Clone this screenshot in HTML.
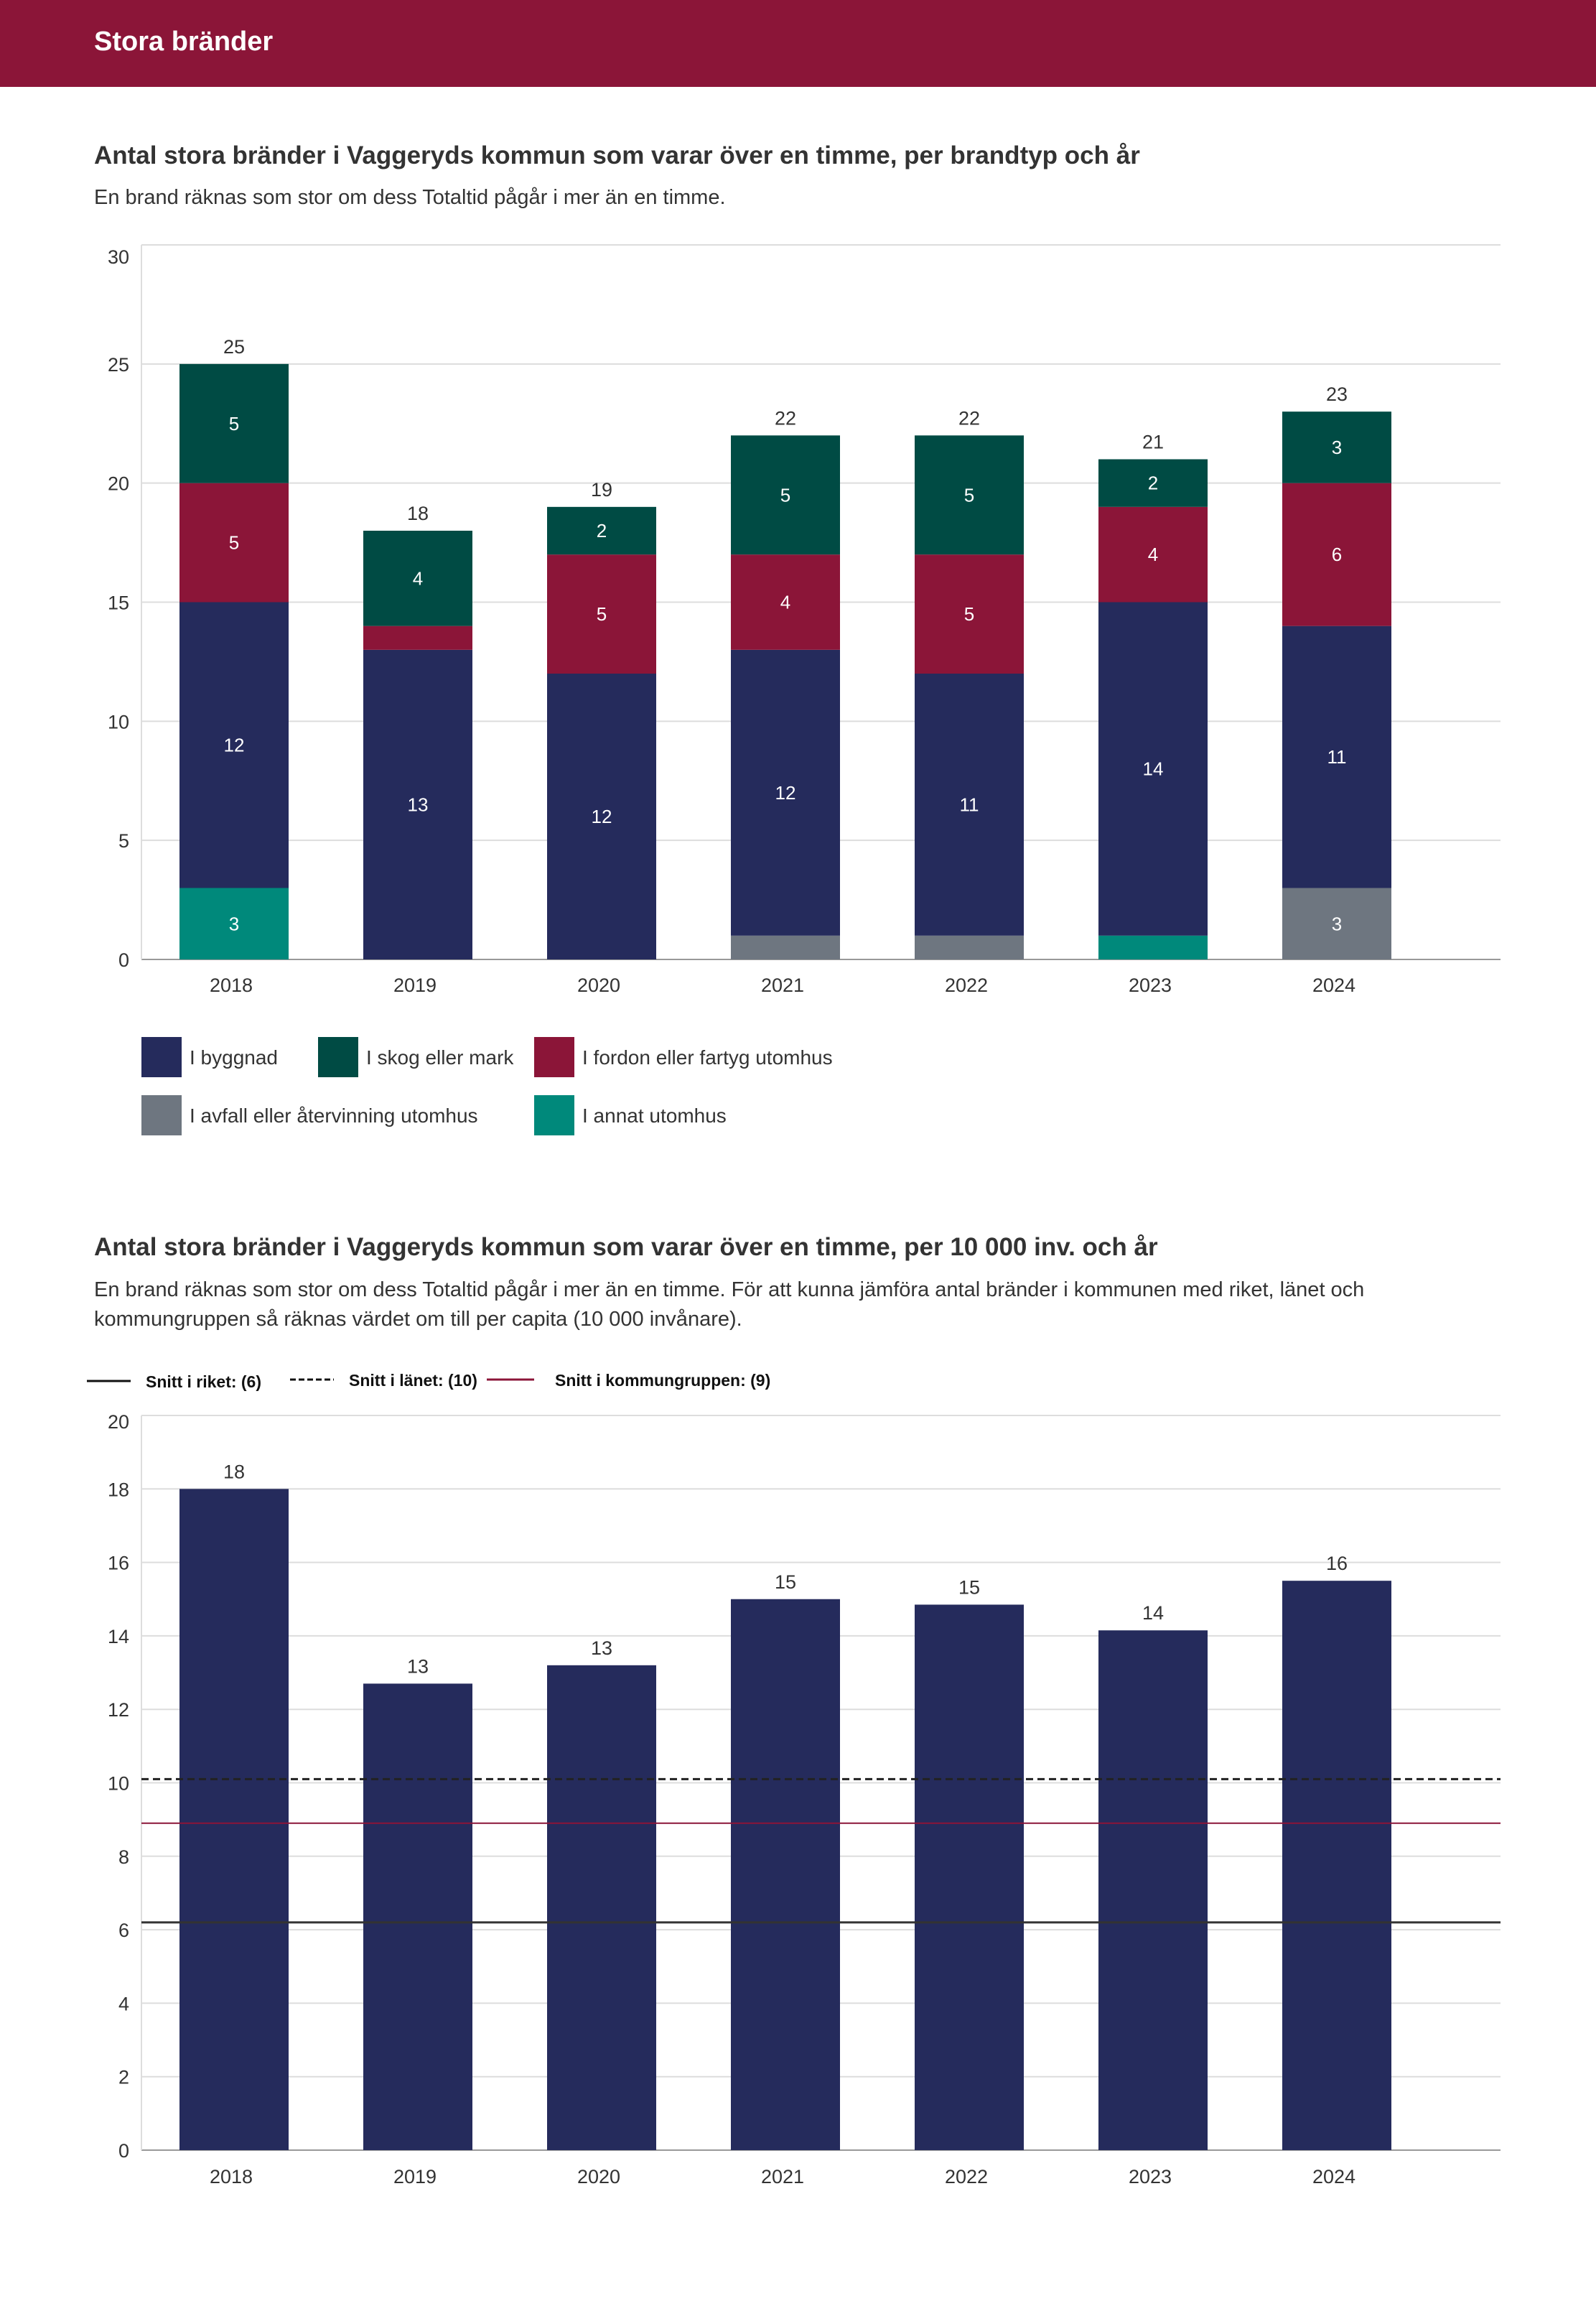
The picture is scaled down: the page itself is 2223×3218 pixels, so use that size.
<!DOCTYPE html>
<html><head><meta charset="utf-8">
<style>
html,body{margin:0;padding:0;background:#fff;}
body{width:2223px;height:3213px;overflow:hidden;font-family:"Liberation Sans",sans-serif;}
svg text{font-family:"Liberation Sans",sans-serif;}
</style></head>
<body>
<svg id="svg" width="2223" height="3213" xmlns="http://www.w3.org/2000/svg">
<rect x="0" y="0" width="2223" height="121" fill="#8b1538"/>
<text x="131" y="70" font-size="38" font-weight="bold" fill="#fff">Stora bränder</text>
<text x="131" y="228" font-size="35" font-weight="bold" fill="#333">Antal stora bränder i Vaggeryds kommun som varar över en timme, per brandtyp och år</text>
<text x="131" y="284" font-size="29" fill="#333">En brand räknas som stor om dess Totaltid pågår i mer än en timme.</text>
<g id="c1"></g>
<g id="leg1"></g>
<text x="131" y="1748" font-size="35" font-weight="bold" fill="#333">Antal stora bränder i Vaggeryds kommun som varar över en timme, per 10 000 inv. och år</text>
<text x="131" y="1805" font-size="29" fill="#333">En brand räknas som stor om dess Totaltid pågår i mer än en timme. För att kunna jämföra antal bränder i kommunen med riket, länet och</text>
<text x="131" y="1846" font-size="29" fill="#333">kommungruppen så räknas värdet om till per capita (10 000 invånare).</text>
<g>
<line x1="121" y1="1923" x2="182" y2="1923" stroke="#111" stroke-width="3"/>
<text x="203" y="1932" font-size="23" font-weight="bold" fill="#111">Snitt i riket: (6)</text>
<line x1="404" y1="1921" x2="465" y2="1921" stroke="#111" stroke-width="3" stroke-dasharray="8,4"/>
<text x="486" y="1930" font-size="23" font-weight="bold" fill="#111">Snitt i länet: (10)</text>
<line x1="678" y1="1921" x2="744" y2="1921" stroke="#8b1538" stroke-width="3"/>
<text x="773" y="1930" font-size="23" font-weight="bold" fill="#111">Snitt i kommungruppen: (9)</text>
</g>
<g id="c2"></g>
</svg>
<script>
const years = ["2018","2019","2020","2021","2022","2023","2024"];
const seriesNames = ["I annat utomhus","I avfall eller återvinning utomhus","I byggnad","I fordon eller fartyg utomhus","I skog eller mark"];
const annat = [3,0,0,0,0,1,0];
const avfall = [0,0,0,1,1,0,3];
const byggnad = [12,13,12,12,11,14,11];
const fordon = [5,1,5,4,5,4,6];
const skog = [5,4,2,5,5,2,3];
const totals = [25,18,19,22,22,21,23];
const yTicks1 = [0,5,10,15,20,25,30];
const perCapita = [18.0,12.7,13.2,15.0,14.85,14.15,15.5];
const perCapitaLabels = ["18","13","13","15","15","14","16"];
const yTicks2 = [0,2,4,6,8,10,12,14,16,18,20];
const riket = 6.2, lanet = 10.1, kommungrupp = 8.9;

const NS="http://www.w3.org/2000/svg";
function mk(parent,tag,attrs,txt){const e=document.createElementNS(NS,tag);for(const k in attrs)e.setAttribute(k,attrs[k]);if(txt!==undefined)e.textContent=txt;parent.appendChild(e);return e;}
const L=197,R=2090,bw=152;
function xc(i){return 326+i*256;}

// Chart 1
const c1=document.getElementById('c1');
const y1=v=>1336-v*(995/30);
yTicks1.forEach(t=>{
  const g=mk(c1,'line',{x1:L,x2:R,y1:y1(t),y2:y1(t),stroke:t===0?'#999':'#ddd','stroke-width':2});
  
  
  const tx=mk(c1,'text',{x:180,y:y1(t)+10+(t===30?16:0),'font-size':27,fill:'#333','text-anchor':'end'},t);
  
  
});
const ax1=mk(c1,'line',{x1:L,x2:L,y1:y1(30),y2:y1(0),stroke:'#ddd','stroke-width':2});


const stack=[[annat,'#00897b','annat'],[avfall,'#6e7680','avfall'],[byggnad,'#252b5c','byggnad'],[fordon,'#8b1538','fordon'],[skog,'#004b44','skog']];
years.forEach((yr,i)=>{
  let base=0;
  stack.forEach(([arr,col,nm])=>{
    const v=arr[i]; if(!v) return;
    const r=mk(c1,'rect',{x:xc(i)-bw/2,y:y1(base+v),width:bw,height:y1(base)-y1(base+v),fill:col});
    
    
    if(v>=2){
      const t=mk(c1,'text',{x:xc(i),y:(y1(base)+y1(base+v))/2+9,'font-size':26,fill:'#fff','text-anchor':'middle'},v);
      
      
    }
    base+=v;
  });
  const tt=mk(c1,'text',{x:xc(i),y:y1(totals[i])-15,'font-size':27,fill:'#333','text-anchor':'middle'},totals[i]);
  
  
  const xl=mk(c1,'text',{x:xc(i)-4,y:1381,'font-size':27,fill:'#333','text-anchor':'middle'},yr);
  
  
});
// legend 1
const leg=document.getElementById('leg1');
[[197,1444,'#252b5c','I byggnad'],[443,1444,'#004b44','I skog eller mark'],[744,1444,'#8b1538','I fordon eller fartyg utomhus'],[197,1525,'#6e7680','I avfall eller återvinning utomhus'],[744,1525,'#00897b','I annat utomhus']].forEach(([x,y,c,t])=>{
  const r=mk(leg,'rect',{x:x,y:y,width:56,height:56,fill:c});
  
  
  const tx=mk(leg,'text',{x:x+67,y:y+38,'font-size':28,fill:'#333'},t);
  
  
});

// Chart 2
const c2=document.getElementById('c2');
const y2=v=>2994-v*(1023/20);
yTicks2.forEach(t=>{
  const g=mk(c2,'line',{x1:L,x2:R,y1:y2(t),y2:y2(t),stroke:t===0?'#999':'#ddd','stroke-width':2});
  
  
  const tx=mk(c2,'text',{x:180,y:y2(t)+10+(t===20?8:0),'font-size':27,fill:'#333','text-anchor':'end'},t);
  
  
});
const ax2=mk(c2,'line',{x1:L,x2:L,y1:y2(20),y2:y2(0),stroke:'#ddd','stroke-width':2});


years.forEach((yr,i)=>{
  const v=perCapita[i];
  const r=mk(c2,'rect',{x:xc(i)-bw/2,y:y2(v),width:bw,height:y2(0)-y2(v),fill:'#252b5c'});
  
  
  const t=mk(c2,'text',{x:xc(i),y:y2(v)-15,'font-size':27,fill:'#333','text-anchor':'middle'},perCapitaLabels[i]);
  
  
  const xl=mk(c2,'text',{x:xc(i)-4,y:3040,'font-size':27,fill:'#333','text-anchor':'middle'},yr);
  
  
});
const lr=mk(c2,'line',{x1:L,x2:R,y1:y2(riket),y2:y2(riket),stroke:'#333','stroke-width':3});


const ll=mk(c2,'line',{x1:L,x2:R,y1:y2(lanet),y2:y2(lanet),stroke:'#222','stroke-width':3,'stroke-dasharray':'10,6'});


const lk=mk(c2,'line',{x1:L,x2:R,y1:y2(kommungrupp),y2:y2(kommungrupp),stroke:'#8b1538','stroke-width':2});


</script>
</body></html>
